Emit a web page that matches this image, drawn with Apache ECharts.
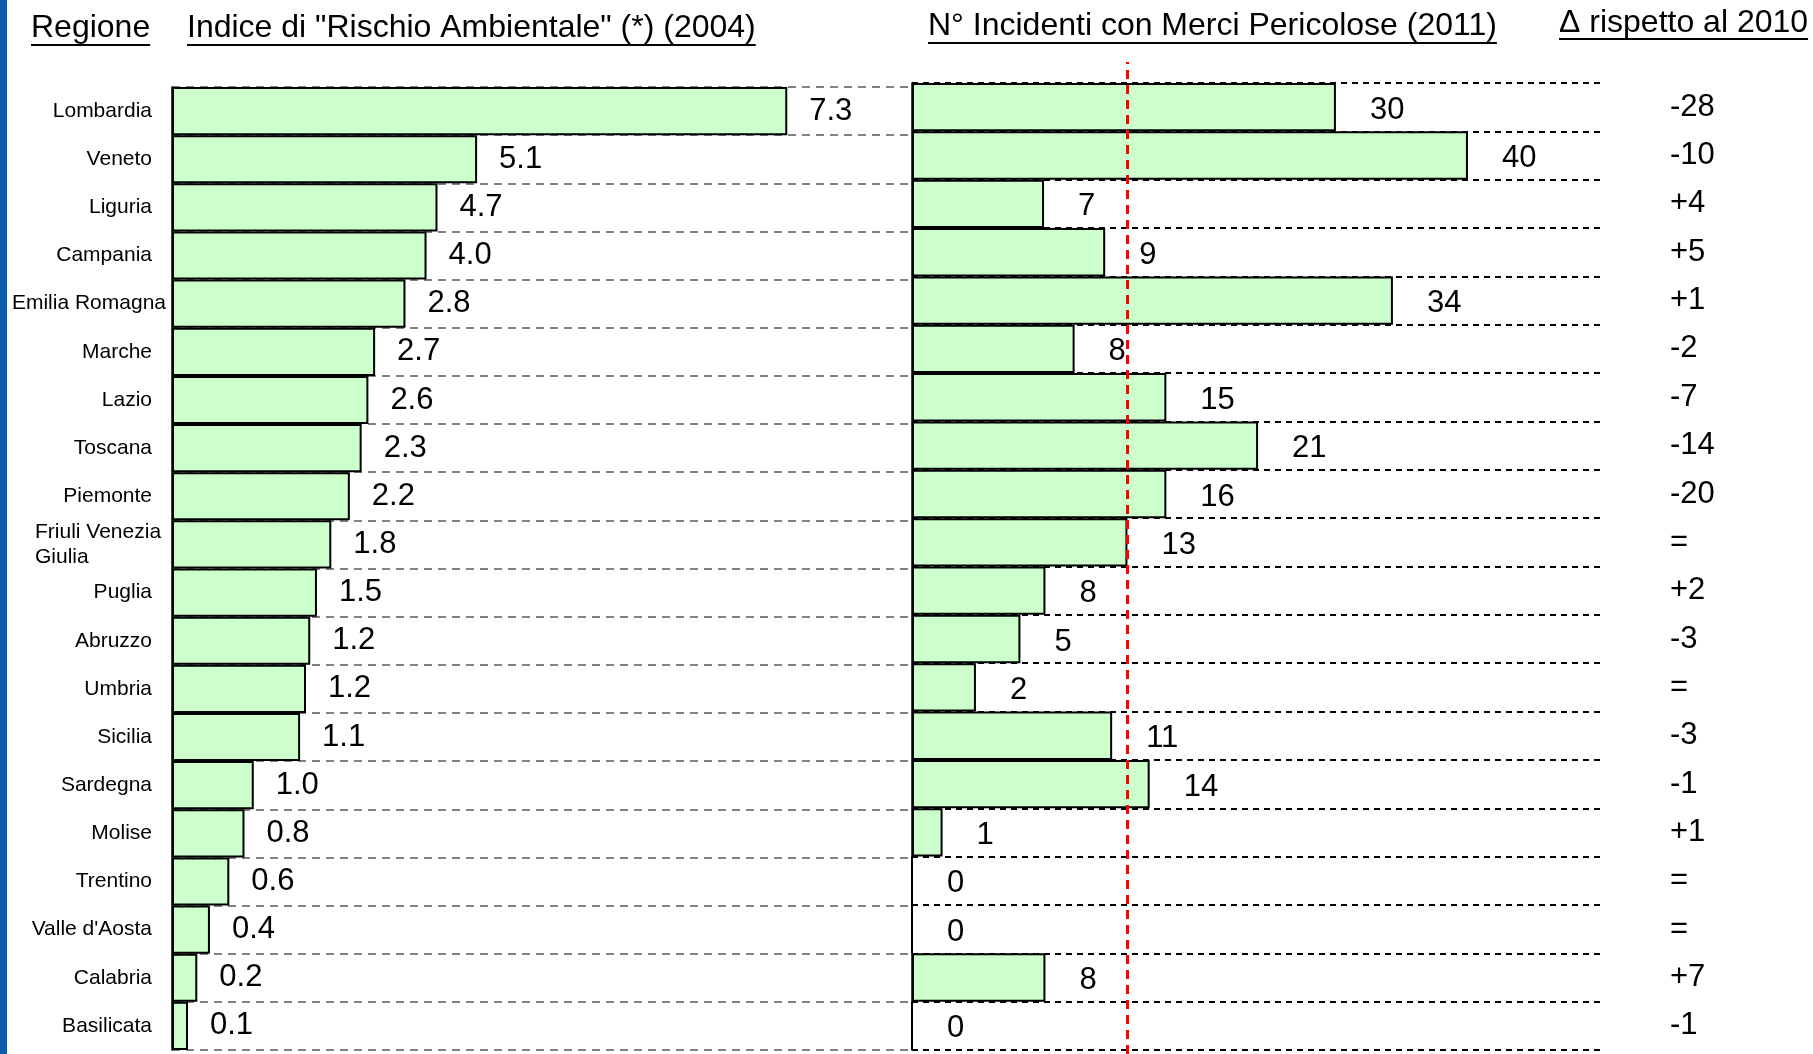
<!DOCTYPE html>
<html>
<head>
<meta charset="utf-8">
<script src="https://cdn.jsdelivr.net/npm/echarts@6.0.0/dist/echarts.min.js"></script>
<style>
  html, body { margin: 0; padding: 0; background: #fff; }
  #chart { width: 1813px; height: 1054px; }
</style>
</head>
<body>
<div id="chart"></div>
<script>
// regioni, dall'alto in basso
const regioni = ["Lombardia", "Veneto", "Liguria", "Campania", "Emilia Romagna", "Marche", "Lazio",
  "Toscana", "Piemonte", "Friuli Venezia Giulia", "Puglia", "Abruzzo", "Umbria", "Sicilia",
  "Sardegna", "Molise", "Trentino", "Valle d'Aosta", "Calabria", "Basilicata"];

// indice di rischio ambientale (2004): valore scritto e lunghezza della barra come disegnata
const rischioLabel = ["7.3", "5.1", "4.7", "4.0", "2.8", "2.7", "2.6", "2.3", "2.2", "1.8",
  "1.5", "1.2", "1.2", "1.1", "1.0", "0.8", "0.6", "0.4", "0.2", "0.1"];
const rischioBar = [7.3, 3.62, 3.15, 3.02, 2.77, 2.41, 2.33, 2.25, 2.11, 1.89,
  1.72, 1.64, 1.59, 1.52, 0.97, 0.86, 0.68, 0.45, 0.30, 0.19];

// incidenti con merci pericolose (2011): valore scritto e lunghezza della barra
const incidenti = [30, 40, 7, 9, 34, 8, 15, 21, 16, 13, 8, 5, 2, 11, 14, 1, 0, 0, 8, 0];
const incidentiBar = [30.5, 40, 9.5, 13.9, 34.6, 11.7, 18.3, 24.9, 18.3, 15.5,
  9.6, 7.8, 4.6, 14.4, 17.1, 2.2, 0, 0, 9.6, 0];

// variazione rispetto al 2010
const delta = ["-28", "-10", "+4", "+5", "+1", "-2", "-7", "-14", "-20", "=",
  "+2", "-3", "=", "-3", "-1", "+1", "=", "=", "+7", "-1"];

// linea rossa tratteggiata
const sogliaRossa = 15.5;

const FONT = '"Liberation Sans", Arial, sans-serif';

function textWidth(t, size) {
  const ctx = document.createElement("canvas").getContext("2d");
  ctx.font = size + "px " + FONT;
  return ctx.measureText(t).width;
}

// intestazioni sottolineate
const headers = [
  { text: "Regione", x: 31, y: 28, u: 45 },
  { text: 'Indice di "Rischio Ambientale" (*) (2004)', x: 187, y: 28, u: 45 },
  { text: "N° Incidenti con Merci Pericolose (2011)", x: 928, y: 26, u: 43 },
  { text: "Δ rispetto al 2010", x: 1559, y: 23, u: 39 }
];
const graphic = [
  { type: "rect", shape: { x: 0, y: 0, width: 7, height: 1054 }, style: { fill: "#0b5cad" } }
];
headers.forEach(h => {
  graphic.push({
    type: "text", x: h.x, y: h.y,
    style: { text: h.text, fontSize: 32, fontFamily: FONT, fill: "#000", verticalAlign: "middle" }
  });
  graphic.push({
    type: "line",
    shape: { x1: h.x, y1: h.u, x2: h.x + textWidth(h.text, 32), y2: h.u },
    style: { stroke: "#000", lineWidth: 2 }
  });
});

// etichette regioni: le due lunghe sporgono un po' verso l'asse
function regionLabel(v) {
  if (v === "Friuli Venezia Giulia") return "{fv|Friuli Venezia}\n{fv|Giulia}";
  if (v === "Emilia Romagna") return "{e|" + v + "}";
  return "{n|" + v + "}";
}
const labelText = { fontSize: 21, fontFamily: FONT, color: "#000" };

const chart = echarts.init(document.getElementById("chart"));
chart.setOption({
  animation: false,
  graphic: graphic,
  grid: [
    { left: 172, top: 87, width: 740, height: 963, outerBoundsMode: "none" },
    { left: 912, top: 83, width: 688, height: 967, outerBoundsMode: "none" },
    { left: 912, top: 62, width: 688, height: 992, outerBoundsMode: "none" }
  ],
  xAxis: [
    { gridIndex: 0, type: "value", min: 0, max: 8.78, show: false },
    { gridIndex: 1, type: "value", min: 0, max: 49.5, show: false },
    { gridIndex: 2, type: "value", min: 0, max: 49.5, show: false }
  ],
  yAxis: [
    {
      gridIndex: 0,
      type: "category",
      inverse: true,
      data: regioni,
      axisLine: { show: true, lineStyle: { color: "#000", width: 1.5 } },
      axisTick: { show: false },
      axisLabel: {
        margin: 6,
        fontSize: 21,
        fontFamily: FONT,
        color: "#000",
        formatter: regionLabel,
        rich: {
          n: Object.assign({ padding: [0, 14, 0, 0] }, labelText),
          e: Object.assign({}, labelText),
          fv: Object.assign({ width: 131, align: "left", lineHeight: 25, padding: [0, 0, 0, 0] }, labelText)
        }
      },
      splitLine: { show: true, lineStyle: { color: "#808080", width: 2, type: [8, 6] } }
    },
    {
      gridIndex: 1,
      type: "category",
      inverse: true,
      data: regioni,
      axisLine: { show: true, lineStyle: { color: "#000", width: 1.5 } },
      axisTick: { show: false },
      axisLabel: { show: false },
      splitLine: { show: true, lineStyle: { color: "#000", width: 2, type: [6, 5] } }
    },
    {
      gridIndex: 1,
      type: "category",
      inverse: true,
      position: "right",
      data: regioni,
      axisLine: { show: false },
      axisTick: { show: false },
      axisLabel: {
        margin: 70,
        align: "left",
        fontSize: 31,
        fontFamily: FONT,
        color: "#000",
        formatter: (v, i) => delta[i]
      },
      splitLine: { show: false }
    },
    { gridIndex: 2, type: "value", min: 0, max: 1, show: false }
  ],
  series: [
    {
      name: "Rischio Ambientale",
      type: "bar",
      xAxisIndex: 0,
      yAxisIndex: 0,
      data: rischioBar,
      barCategoryGap: "0%",
      itemStyle: { color: "#ccffcc", borderColor: "#000", borderWidth: 2 },
      label: {
        show: true,
        position: "right",
        distance: 22,
        fontSize: 31,
        fontFamily: FONT,
        color: "#000",
        formatter: p => rischioLabel[p.dataIndex]
      }
    },
    {
      name: "Incidenti",
      type: "bar",
      xAxisIndex: 1,
      yAxisIndex: 1,
      data: incidentiBar,
      barCategoryGap: "0%",
      itemStyle: { color: "#ccffcc", borderColor: "#000", borderWidth: 2 },
      label: {
        show: true,
        position: "right",
        distance: 34,
        offset: [0, 3],
        fontSize: 31,
        fontFamily: FONT,
        color: "#000",
        formatter: p => String(incidenti[p.dataIndex])
      }
    },
    {
      name: "soglia",
      type: "line",
      xAxisIndex: 2,
      yAxisIndex: 3,
      data: [],
      markLine: {
        silent: true,
        symbol: "none",
        label: { show: false },
        lineStyle: { color: "#ff0000", width: 3, type: [9, 6] },
        data: [{ xAxis: sogliaRossa }]
      }
    }
  ]
});
</script>
</body>
</html>
